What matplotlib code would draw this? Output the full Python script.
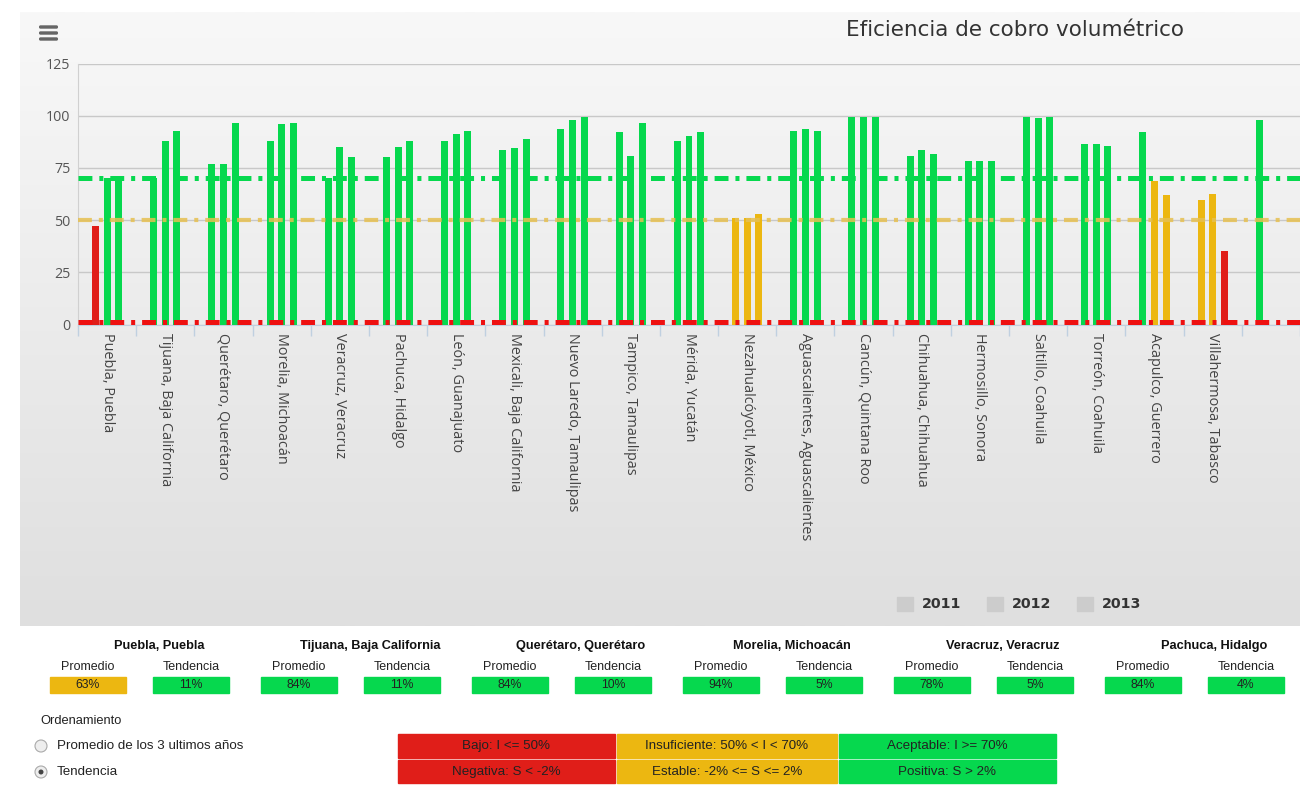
import numpy as np
import matplotlib
matplotlib.use("Agg")
import matplotlib.pyplot as plt
from matplotlib.patches import Rectangle, Circle, FancyBboxPatch

plt.rcParams["lines.scale_dashes"] = False

# ---- data ----
cities = [
    "Puebla, Puebla", "Tijuana, Baja California", "Querétaro, Querétaro",
    "Morelia, Michoacán", "Veracruz, Veracruz", "Pachuca, Hidalgo",
    "León, Guanajuato", "Mexicali, Baja California", "Nuevo Laredo, Tamaulipas",
    "Tampico, Tamaulipas", "Mérida, Yucatán", "Nezahualcóyotl, México",
    "Aguascalientes, Aguascalientes", "Cancún, Quintana Roo",
    "Chihuahua, Chihuahua", "Hermosillo, Sonora", "Saltillo, Coahuila",
    "Torreón, Coahuila", "Acapulco, Guerrero", "Villahermosa, Tabasco", "",
]
years = ["2011", "2012", "2013"]
v2011 = [47, 70, 77, 88, 70, 80, 88, 83.5, 93.5, 92, 88, 51, 92.5, 99.5,
         80.5, 78.5, 99.5, 86.5, 92, 59.5, 98]
v2012 = [70, 88, 77, 96, 85, 85, 91, 84.5, 98, 80.5, 90.5, 51, 93.5, 99.5,
         83.5, 78.5, 99, 86.5, 68.5, 62.5, np.nan]
v2013 = [70.5, 92.5, 96.5, 96.5, 80, 88, 92.5, 89, 99.5, 96.5, 92, 53, 92.5,
         99.5, 81.5, 78.5, 99.5, 85.5, 62, 35, np.nan]
yticks = [0, 25, 50, 75, 100, 125]
limit_low = 1
limit_mid = 50
limit_high = 70

panel_cities = ["Puebla, Puebla", "Tijuana, Baja California", "Querétaro, Querétaro",
                "Morelia, Michoacán", "Veracruz, Veracruz", "Pachuca, Hidalgo"]
promedio = [63, 84, 84, 94, 78, 84]
tendencia = [11, 11, 10, 5, 5, 4]

legend_rows = [
    ["Bajo: I <= 50%", "Insuficiente: 50% < I < 70%", "Aceptable: I >= 70%"],
    ["Negativa: S < -2%", "Estable: -2% <= S <= 2%", "Positiva: S > 2%"],
]
orden_opts = ["Promedio de los 3 ultimos años", "Tendencia"]

RED = "#E01E19"
ORANGE = "#ECB711"
GREEN = "#06D84E"

W, H = 1300, 785
fig = plt.figure(figsize=(13, 7.85), dpi=100, facecolor="white")


def fx(x):
    return x / W


def fy(y):
    return 1 - y / H


def level_color(v):
    if v <= limit_mid:
        return RED
    if v < limit_high:
        return ORANGE
    return GREEN


def trend_color(s):
    if s < -2:
        return RED
    if s <= 2:
        return ORANGE
    return GREEN


# ---- chart container with vertical gradient ----
bg = fig.add_axes([fx(20), fy(626), fx(1280), fy(12) - fy(626)], zorder=0)
grad = np.linspace(248, 223, 256)[:, None] / 255.0
bg.imshow(np.dstack([grad, grad, grad]), aspect="auto", extent=[0, 1, 0, 1],
          origin="upper")
bg.set_axis_off()

# ---- main bar axes ----
ax = fig.add_axes([fx(78), fy(324.5), fx(1300 - 78), fy(63.5) - fy(324.5)],
                  zorder=2)
ax.patch.set_alpha(0)
x = np.arange(len(cities))
bw = 0.12
for off, vals in zip([-0.2, 0.0, 0.2], [v2011, v2012, v2013]):
    cols = [level_color(v) if not np.isnan(v) else GREEN for v in vals]
    ax.bar(x + off, vals, width=bw, color=cols, zorder=3, linewidth=0)

ax.set_xlim(-0.5, 19.93)
ax.set_ylim(0, 125)
ax.set_yticks(yticks)
ax.yaxis.grid(True, color="#C8C8C8", linewidth=1.0)
ax.set_axisbelow(True)
ax.tick_params(axis="y", length=0, labelsize=10.3, labelcolor="#555555", pad=5.5)
for lbl in ax.get_yticklabels():
    lbl.set_fontfamily("Open Sans")

ax.set_xticks(x)
ax.set_xticklabels(cities, rotation=270, fontsize=10.4, color="#444444",
                   family="Open Sans", va="top", ha="center")
ax.set_xticks(np.arange(-0.5, len(cities), 1.0), minor=True)
ax.tick_params(axis="x", which="major", length=0, pad=6)
ax.tick_params(axis="x", which="minor", length=8, color="#C0D0E0", width=1)
for s in ["top", "right"]:
    ax.spines[s].set_visible(False)
ax.spines["left"].set_color("#D0D0D0")
ax.spines["bottom"].set_color("#C0D0E0")

# threshold lines (dash pattern in points)
dash = (10.0, 5.0, 2.9, 5.0)
ax.axhline(limit_high, color=GREEN, lw=3.6, dashes=dash, zorder=4)
ax.axhline(limit_mid, color="#E6C051", lw=3.0, alpha=0.85, dashes=dash, zorder=4)
ax.axhline(limit_low, color="#EE1111", lw=3.6, dashes=dash, zorder=4,
           clip_on=False)

# ---- overlay in pixel coordinates for the page elements ----
ov = fig.add_axes([0, 0, 1, 1], zorder=10)
ov.set_xlim(0, W)
ov.set_ylim(H, 0)
ov.set_axis_off()
ov.patch.set_alpha(0)

ov.text(1015, 30, "Eficiencia de cobro volumétrico", fontsize=15.5,
        color="#333333", ha="center", va="center", family="DejaVu Sans")
for yy in (27, 33, 39):
    ov.add_patch(FancyBboxPatch((39, yy - 1.7), 19, 3.4,
                                boxstyle="round,pad=0,rounding_size=1.5",
                                facecolor="#666666", edgecolor="none"))

# series legend
for i, yr in enumerate(years):
    x0 = 897 + 90 * i
    ov.add_patch(Rectangle((x0, 597), 16, 14, color="#CCCCCC"))
    ov.text(x0 + 25, 604, yr, fontsize=10.3, fontweight="bold",
            color="#333333", ha="left", va="center", family="DejaVu Sans")

# ---- summary panel ----
for k, (name, p, t) in enumerate(zip(panel_cities, promedio, tendencia)):
    cx = 157 + 211 * k
    ov.text(cx + 2, 646, name, fontsize=9.2, fontweight="bold",
            color="#111111", ha="center", va="center", family="Liberation Sans")
    for off, lab, val, col in ((-69, "Promedio", p, level_color(p)),
                               (34, "Tendencia", t, trend_color(t))):
        bx = cx + off
        ov.text(bx, 667, lab, fontsize=9, color="#222222",
                ha="center", va="center", family="Liberation Sans")
        ov.add_patch(Rectangle((bx - 38, 677), 76, 16, color=col))
        ov.text(bx, 685, f"{val}%", fontsize=8.8, color="#222222",
                ha="center", va="center", family="Liberation Sans")

# ordering options
ov.text(40, 721, "Ordenamiento", fontsize=9.3, color="#222222",
        ha="left", va="center", family="Liberation Sans")
for i, opt in enumerate(orden_opts):
    yy = 746 + 26 * i
    ov.add_patch(Circle((41, yy), 6, facecolor="#EEEEEE", edgecolor="#AAAAAA",
                        lw=0.8))
    if i == 1:
        ov.add_patch(Circle((41, yy), 2.5, facecolor="#444444",
                            edgecolor="none"))
    ov.text(57, yy, opt, fontsize=9.6, color="#222222", ha="left",
            va="center", family="Liberation Sans")

# criteria table
col_x = [397, 616, 838, 1057]
row_y = [733, 758.5, 784]
col_colors = [RED, ORANGE, GREEN]
for r, row in enumerate(legend_rows):
    for c, txt in enumerate(row):
        x0, x1 = col_x[c] + 1, col_x[c + 1] - 1
        y0, y1 = row_y[r] + 1, row_y[r + 1] - 1
        ov.add_patch(Rectangle((x0, y0), x1 - x0, y1 - y0,
                               color=col_colors[c]))
        ov.text((x0 + x1) / 2, (y0 + y1) / 2 + 0.5, txt, fontsize=9.6,
                color="#222222", ha="center", va="center",
                family="Liberation Sans")

fig.savefig("out.png", dpi=100, facecolor="white")
